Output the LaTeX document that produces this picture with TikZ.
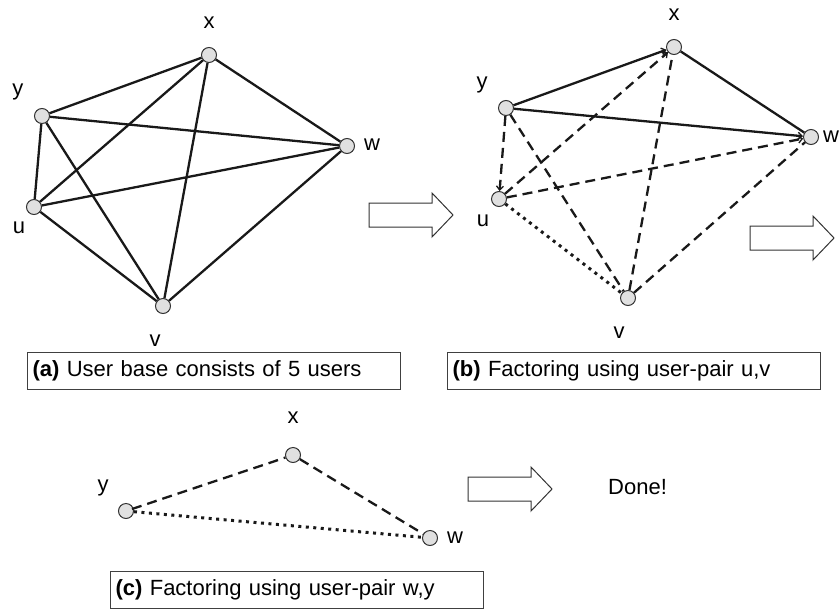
\documentclass[tikz,border=0pt]{standalone}
\usepackage{fontspec}
\setmainfont{Liberation Sans}
\usetikzlibrary{arrows.meta}
\begin{document}
\begin{tikzpicture}[x=1pt,y=-1pt,
  user/.style={circle,draw=black!80,line width=1pt,fill=black!12,minimum size=15pt,inner sep=0pt},
  lbl/.style={font=\fontsize{22}{26}\selectfont,inner sep=0pt},
  edge/.style={line width=2.3pt,black!90},
  dashedge/.style={edge,dash pattern=on 10pt off 6pt},
  dotedge/.style={line width=3pt,black!90,dash pattern=on 3pt off 4.5pt},
  arrowtip/.style={-{Straight Barb[length=4pt,width=7pt,line width=1.3pt]}},
  capbox/.style={draw=black!75,line width=1.2pt,text width=363pt,inner xsep=5pt,inner ysep=0pt,
    minimum height=37pt,anchor=north west,align=left,font=\fontsize{22}{26}\selectfont},
  blockarr/.pic={\draw[line width=1pt,black!80] (0,-12) -- (63,-12) -- (63,-22) -- (84,0) -- (63,22) -- (63,12) -- (0,12) -- cycle;}
]
\useasboundingbox (0,0) rectangle (840,608);

% ---------- (a) ----------
\node[user] (ax) at (209,55) {};
\node[user] (ay) at (42,116) {};
\node[user] (aw) at (347,146) {};
\node[user] (au) at (34,207) {};
\node[user] (av) at (163,306) {};
\node[lbl] (axl) at (209,23) {x};
\node[lbl] (ayl) at (18,92) {y};
\node[lbl] (awl) at (372,145) {w};
\node[lbl] (aul) at (19,228) {u};
\node[lbl] (avl) at (155,341) {v};
\foreach \a/\b in {ax/ay,ax/aw,ax/au,ax/av,ay/aw,ay/au,ay/av,aw/au,aw/av,au/av}
  \draw[edge] (\a) -- (\b);
\node[capbox] (capa) at (27,352) {\textbf{(a)} User base consists of 5 users};

\pic at (369,215) {blockarr};

% ---------- (b) ----------
\node[user] (bx) at (674,47) {};
\node[user] (by) at (506,108) {};
\node[user] (bw) at (811,137) {};
\node[user] (bu) at (499,199) {};
\node[user] (bv) at (628,298) {};
\node[lbl] (bxl) at (674,15) {x};
\node[lbl] (byl) at (482,85) {y};
\node[lbl] (bwl) at (831,137) {w};
\node[lbl] (bul) at (483,221) {u};
\node[lbl] (bvl) at (619,333) {v};
\draw[edge,arrowtip] (by) -- (bx);
\draw[edge,arrowtip] (by) -- (bw);
\draw[edge] (bx) -- (bw);
\draw[dashedge,arrowtip] (by) -- (bu);
\draw[dashedge] (by) -- (bv);
\draw[dashedge,arrowtip] (bu) -- (bx);
\draw[dashedge,arrowtip] (bu) -- (bw);
\draw[dashedge] (bv) -- (bx);
\draw[dashedge] (bv) -- (bw);
\draw[dotedge] (bu) -- (bv);
\node[capbox] (capb) at (447,352) {\textbf{(b)} Factoring using user-pair u,v};

\pic at (750,238) {blockarr};

% ---------- (c) ----------
\node[user] (cx) at (293,455) {};
\node[user] (cy) at (126,511) {};
\node[user] (cw) at (430,538) {};
\node[lbl] (cxl) at (293,418) {x};
\node[lbl] (cyl) at (103,488) {y};
\node[lbl] (cwl) at (455,538) {w};
\draw[dashedge] (cy.center) ++(6,-2) -- (cx);
\draw[dashedge] (cx) -- (cw);
\draw[dotedge] (cy) -- (cw);
\node[capbox] (capc) at (110,571) {\textbf{(c)} Factoring using user-pair w,y};

\pic at (468,489) {blockarr};
\node[lbl,anchor=west] (done) at (608,487) {Done!};
\end{tikzpicture}
\end{document}
